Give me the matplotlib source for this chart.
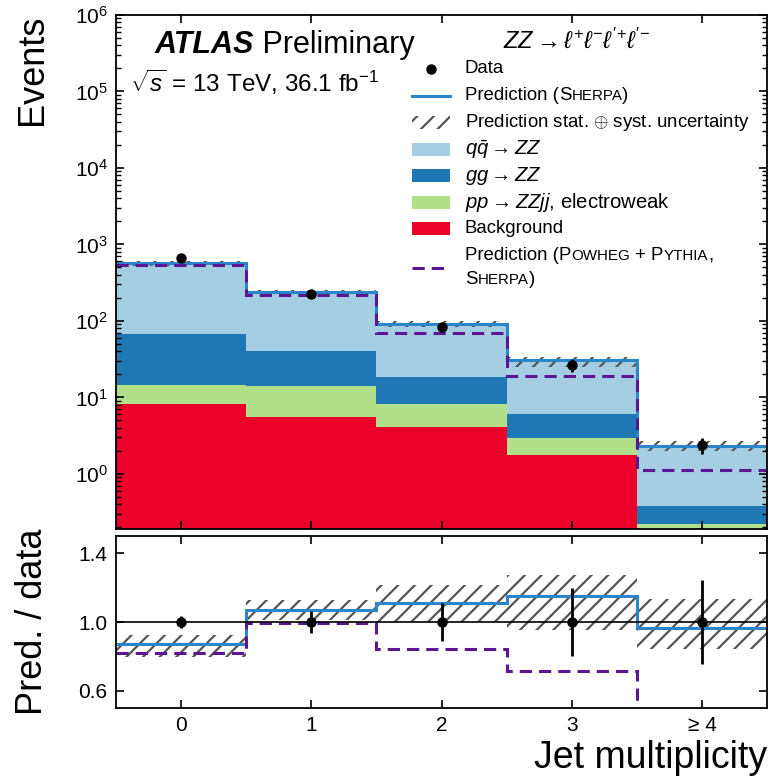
import numpy as np
import matplotlib
matplotlib.use("Agg")
import matplotlib.pyplot as plt
from matplotlib.offsetbox import TextArea, HPacker, AnnotationBbox
from matplotlib.patches import Rectangle
from matplotlib.lines import Line2D
from matplotlib.ticker import NullFormatter, FixedLocator, NullLocator

plt.rcParams['font.family'] = ['Liberation Sans', 'DejaVu Sans']
plt.rcParams['mathtext.fontset'] = 'custom'
plt.rcParams['mathtext.rm'] = 'Liberation Sans'
plt.rcParams['mathtext.it'] = 'Liberation Sans:italic'
plt.rcParams['mathtext.bf'] = 'Liberation Sans:bold'
plt.rcParams['hatch.linewidth'] = 1.6
plt.rcParams['hatch.color'] = '#555555'

# jet multiplicity bins
njets = np.arange(5)
tick_labels = ['0', '1', '2', '3', '≥ 4']

# stacked contributions (events)
bkg = np.array([8.1, 5.6, 4.05, 1.74, 0.0])
ewk = np.array([6.3, 8.3, 4.15, 1.16, 0.22])
gg = np.array([53.6, 26.1, 10.1, 3.2, 0.165])
qqbar = np.array([507, 198, 73.7, 24.4, 1.9])

# alternative prediction (Powheg + Pythia, Sherpa)
powheg = np.array([540, 221, 70, 19.0, 1.13])

# data and relative errors
data = np.array([658, 222, 83, 26.5, 2.37])
data_err = np.array([0.037, 0.066, 0.11, 0.195, 0.243])

# relative prediction uncertainty (stat + syst)
unc_up = np.array([0.057, 0.050, 0.095, 0.104, 0.174])
unc_dn = np.array([0.087, 0.058, 0.100, 0.171, 0.126])

c_red = '#ea0029'
c_green = '#b2df8a'
c_dblue = '#1f78b4'
c_lblue = '#a6cee3'
c_line = '#2a86c8'
c_purple = '#5a1791'
c_hatch = '#555555'

edges = np.arange(6) - 0.5
total = bkg + ewk + gg + qqbar

fig = plt.figure(figsize=(7.71, 7.76), dpi=100)
ax = fig.add_axes([0.1505, 0.3183, 0.8444, 0.6624])
ax2 = fig.add_axes([0.1505, 0.0876, 0.8444, 0.2217])

# stacked histogram
bottom = np.zeros(5)
for vals, col in [(bkg, c_red), (ewk, c_green), (gg, c_dblue), (qqbar, c_lblue)]:
    ax.stairs(bottom + vals, edges, baseline=bottom.copy(), fill=True, color=col, lw=0)
    bottom = bottom + vals

ax.stairs(total * (1 + unc_up), edges, baseline=total * (1 - unc_dn), fill=True,
          facecolor='none', edgecolor=c_hatch, hatch='//', lw=0)
ax.stairs(total, edges, baseline=None, color=c_line, lw=2.2)
ax.stairs(powheg, edges, baseline=None, color=c_purple, lw=2.2, ls=(0, (4, 2.3)))
ax.errorbar(njets, data, yerr=data * data_err, fmt='o', color='k', ms=6.5,
            elinewidth=2, capsize=0, zorder=5)

ax.set_yscale('log')
ax.set_ylim(0.19, 1e6)
ax.set_xlim(-0.5, 4.5)
ax.set_xticks(njets)
ax.set_xticklabels([])
ax.xaxis.set_minor_locator(NullLocator())
ax.yaxis.set_minor_formatter(NullFormatter())
ax.set_ylabel('Events', loc='top', fontsize=26)
ax.yaxis.set_label_coords(-0.101, 1.0)

# ratio panel
ax2.axhline(1.0, color='k', lw=1.2)
ax2.stairs(total * (1 + unc_up) / data, edges, baseline=total * (1 - unc_dn) / data,
           fill=True, facecolor='none', edgecolor=c_hatch, hatch='//', lw=0)
ax2.stairs(total / data, edges, baseline=None, color=c_line, lw=2.2)
ax2.stairs(powheg / data, edges, baseline=None, color=c_purple, lw=2.2, ls=(0, (4, 2.3)))
ax2.errorbar(njets, np.ones(5), yerr=data_err, fmt='o', color='k', ms=6.5,
             elinewidth=2, capsize=0, zorder=5)
ax2.set_xlim(-0.5, 4.5)
ax2.set_ylim(0.5, 1.5)
ax2.set_xticks(njets)
ax2.set_xticklabels(tick_labels)
ax2.xaxis.set_minor_locator(NullLocator())
ax2.yaxis.set_major_locator(FixedLocator([0.6, 1.0, 1.4]))
ax2.set_yticklabels(['0.6', '1.0', '1.4'])
ax2.yaxis.set_minor_locator(NullLocator())
ax2.set_ylabel('Pred. / data', fontsize=26)
ax2.yaxis.set_label_coords(-0.101, 0.5)
ax2.set_xlabel('Jet multiplicity', loc='right', fontsize=27)
ax2.xaxis.set_label_coords(1.0, -0.185)

for a in (ax, ax2):
    a.tick_params(which='both', direction='in', top=True, right=True, labelsize=15, pad=6)
    a.tick_params(which='major', length=6, width=1.2)
    a.tick_params(which='minor', length=3.5, width=1.0)
    for s in a.spines.values():
        s.set_linewidth(1.3)


def y_ax(py):
    return (529 - py) / 514.0


def text_row(parts, x, y):
    boxes = [TextArea(t, textprops=dict(size=s)) for t, s in parts]
    row = HPacker(children=boxes, align='baseline', pad=0, sep=0)
    ab = AnnotationBbox(row, (x, y), xycoords='axes fraction', box_alignment=(0, 0.5),
                        frameon=False, pad=0)
    ax.add_artist(ab)


BIG, SMALL, MATH = 13.4, 10.9, 14.6


def sc(word):
    return [(word[0], BIG), (word[1:].upper(), SMALL)]


# ATLAS label
t_atlas = ax.text(0.060, 0.926, 'ATLAS', transform=ax.transAxes, fontsize=22,
                  fontweight='bold', fontstyle='italic', va='baseline')
ax.annotate(' Preliminary', xy=(1, 0), xycoords=t_atlas, va='bottom', fontsize=22)
ax.text(0.0215, 0.850, r'$\sqrt{s}$ = 13 TeV, 36.1 fb$^{-1}$', transform=ax.transAxes,
        fontsize=17.5, va='baseline')
ax.text(0.594, y_ax(41), r"$ZZ \rightarrow \ell^{+}\ell^{-}\ell'^{+}\ell'^{-}$",
        transform=ax.transAxes, fontsize=17, va='center')

# legend drawn by hand
hx0, hx1, tx = 0.4547, 0.513, 0.536
hh = 0.0253
ax.plot([0.484], [y_ax(69)], 'o', color='k', ms=6.5, transform=ax.transAxes, clip_on=False)
text_row([('Data', BIG)], tx, y_ax(69))

ax.add_line(Line2D([hx0, hx1], [y_ax(96)] * 2, color=c_line, lw=2.2, transform=ax.transAxes))
text_row([('Prediction (', BIG)] + sc('Sherpa') + [(')', BIG)], tx, y_ax(96))

ax.add_patch(Rectangle((hx0, y_ax(123) - hh / 2), hx1 - hx0, hh, transform=ax.transAxes,
                       facecolor='none', edgecolor=c_hatch, hatch='//', lw=0))
text_row([(r'Prediction stat. $\oplus$ syst. uncertainty', BIG)], tx, y_ax(123))

for py, col, lab in [(150, c_lblue, r'$q\bar{q} \rightarrow ZZ$'),
                     (176, c_dblue, r'$gg \rightarrow ZZ$'),
                     (203, c_green, r'$pp \rightarrow ZZjj$, electroweak'),
                     (229, c_red, 'Background')]:
    ax.add_patch(Rectangle((hx0, y_ax(py) - hh / 2), hx1 - hx0, hh, transform=ax.transAxes,
                           facecolor=col, lw=0))
    size = BIG if lab == 'Background' else MATH
    text_row([(lab, size)], tx, y_ax(py))

ax.add_line(Line2D([hx0, hx1], [y_ax(268)] * 2, color=c_purple, lw=2.2, ls=(0, (4, 2.3)),
                   transform=ax.transAxes))
text_row([('Prediction (', BIG)] + sc('Powheg') + [(' + ', BIG)] + sc('Pythia') + [(',', BIG)],
         tx, y_ax(256))
text_row(sc('Sherpa') + [(')', BIG)], tx, y_ax(280))

fig.savefig('out.png', dpi=100)
